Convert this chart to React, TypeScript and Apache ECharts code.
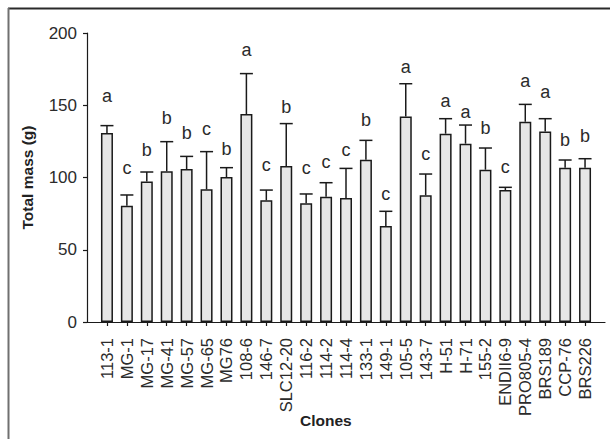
import React, { useEffect, useRef } from "react";
import * as echarts from "echarts";

const clones = [
  "113-1", "MG-1", "MG-17", "MG-41", "MG-57", "MG-65", "MG76", "108-6", "146-7",
  "SLC12-20", "116-2", "114-2", "114-4", "133-1", "149-1", "105-5", "143-7",
  "H-51", "H-71", "155-2", "ENDII6-9", "PRO805-4", "BRS189", "CCP-76", "BRS226",
];
const means = [
  130.8, 80.5, 97.3, 104.3, 105.9, 91.8, 100.3, 143.9, 84.2, 108.0, 82.1, 86.7,
  85.8, 112.3, 66.4, 142.3, 87.7, 130.3, 123.4, 105.4, 91.3, 138.6, 131.9, 106.8, 106.8,
];
const errorTops = [
  135.9, 87.9, 103.8, 124.8, 114.6, 117.9, 106.8, 171.9, 91.3, 137.3, 88.6, 96.4,
  106.3, 125.7, 76.6, 164.9, 102.4, 140.7, 136.3, 120.4, 93.2, 150.6, 140.7, 112.1, 113.0,
];
const letters = [
  "a", "c", "b", "b", "b", "c", "b", "a", "c", "b", "c", "c", "c", "b", "c", "a",
  "c", "a", "a", "b", "c", "a", "a", "b", "b",
];
const letterAt = [
  156.2, 106.6, 119.3, 141.2, 130.8, 133.6, 120.0, 188.5, 108.9, 148.8, 106.3, 110.7,
  118.8, 140.0, 88.6, 176.2, 116.5, 153.2, 145.1, 134.5, 107.0, 167.0, 158.9, 125.7, 128.5,
];
const yTicks = [0, 50, 100, 150, 200];

const FONT = "'Liberation Sans', Arial, sans-serif";

export default function App() {
  const ref = useRef<HTMLDivElement>(null);
  useEffect(() => {
    if (!ref.current) return;
    const chart = echarts.init(ref.current, null, { renderer: "svg" });
    const errData = clones.map((_, i) => [i, means[i], errorTops[i], letterAt[i]]);
    chart.setOption({
      animation: false,
      backgroundColor: "#ffffff",
      textStyle: { fontFamily: FONT },
      grid: [
        { left: 87, right: 5, top: 33, bottom: 117, containLabel: false },
        { left: 97, right: 15, top: 33, bottom: 117, containLabel: false },
      ],
      xAxis: [
        {
          gridIndex: 0,
          type: "value",
          min: 0,
          max: 1,
          axisLine: { show: true, lineStyle: { color: "#1a1a1a", width: 1.2 } },
          axisTick: { show: false },
          axisLabel: { show: false },
          splitLine: { show: false },
        },
        {
          gridIndex: 1,
          type: "category",
          data: clones,
          axisLine: { show: false },
          axisTick: { show: true, alignWithLabel: true, length: 4, lineStyle: { color: "#1a1a1a", width: 1.2 } },
          axisLabel: {
            interval: 0,
            rotate: 90,
            margin: 16,
            fontSize: 16.5,
            color: "#2b2b2b",
            fontFamily: FONT,
          },
          splitLine: { show: false },
        },
      ],
      yAxis: [
        {
          gridIndex: 0,
          type: "value",
          min: yTicks[0],
          max: yTicks[yTicks.length - 1],
          interval: 50,
          name: "Total mass (g)",
          nameLocation: "middle",
          nameGap: 52,
          nameTextStyle: { fontSize: 15.5, fontWeight: "bold", color: "#222", fontFamily: FONT },
          axisLine: { show: true, lineStyle: { color: "#1a1a1a", width: 1.2 } },
          axisTick: { show: true, length: 4, lineStyle: { color: "#1a1a1a", width: 1.2 } },
          axisLabel: { margin: 10, fontSize: 17, color: "#2b2b2b", fontFamily: FONT },
          splitLine: { show: false },
        },
        {
          gridIndex: 1,
          type: "value",
          min: 0,
          max: 200,
          interval: 50,
          show: false,
        },
      ],
      graphic: [
        { type: "line", shape: { x1: 8, y1: 8.5, x2: 610, y2: 8.5 }, style: { stroke: "#2a2a2a", lineWidth: 2 } },
        { type: "line", shape: { x1: 8.5, y1: 8, x2: 8.5, y2: 439 }, style: { stroke: "#707070", lineWidth: 2 } },
        {
          type: "text",
          left: 300,
          top: 412,
          style: { text: "Clones", fontSize: 15.5, fontWeight: "bold", fill: "#222", fontFamily: FONT },
        },
      ],
      series: [
        {
          type: "bar",
          xAxisIndex: 1,
          yAxisIndex: 1,
          data: means,
          barWidth: 12,
          itemStyle: { color: "#e6e6e6", borderColor: "#1a1a1a", borderWidth: 1.5 },
          z: 2,
        },
        {
          type: "custom",
          xAxisIndex: 1,
          yAxisIndex: 1,
          data: errData,
          z: 3,
          renderItem: (params: any, api: any) => {
            const i = api.value(0);
            const base = api.coord([i, api.value(1)]);
            const top = api.coord([i, api.value(2)]);
            const lab = api.coord([i, api.value(3)]);
            const half = 6.5;
            return {
              type: "group",
              children: [
                { type: "line", shape: { x1: base[0], y1: base[1], x2: top[0], y2: top[1] }, style: { stroke: "#1a1a1a", lineWidth: 1.5 } },
                { type: "line", shape: { x1: top[0] - half, y1: top[1], x2: top[0] + half, y2: top[1] }, style: { stroke: "#1a1a1a", lineWidth: 1.5 } },
                {
                  type: "text",
                  x: lab[0],
                  y: lab[1],
                  style: {
                    text: letters[params.dataIndex],
                    fontSize: 18,
                    fill: "#2b2b2b",
                    fontFamily: FONT,
                    align: "center",
                    verticalAlign: "middle",
                  },
                },
              ],
            };
          },
        },
      ],
    });
    return () => chart.dispose();
  }, []);
  return <div ref={ref} style={{ width: 610, height: 439, position: "absolute", left: 0, top: 0 }} />;
}
